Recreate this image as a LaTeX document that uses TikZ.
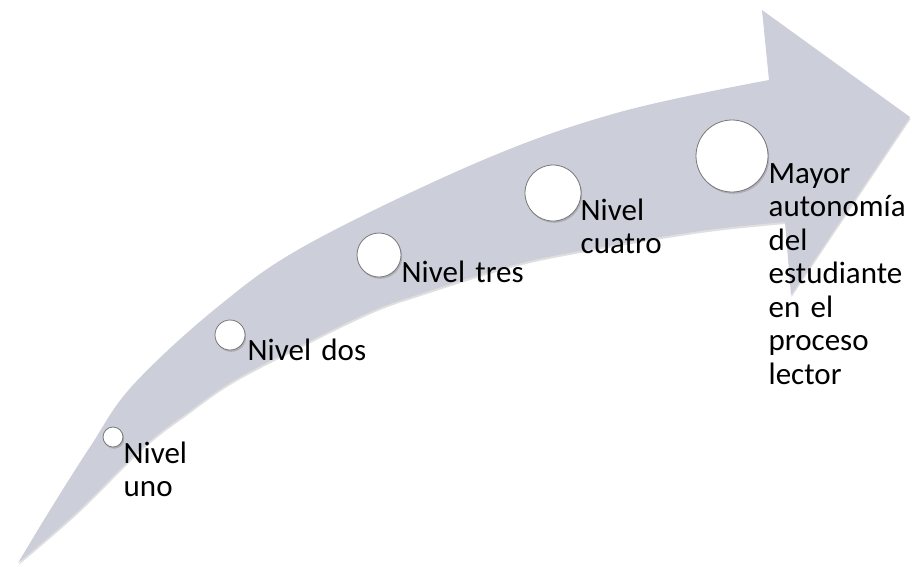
\documentclass[tikz,border=0pt]{standalone}
\usepackage{fontspec}
\setmainfont{Carlito}
\usetikzlibrary{shadows}
\definecolor{arrowgray}{RGB}{204,207,217}
\definecolor{rimgray}{RGB}{120,120,120}
\begin{document}
\begin{tikzpicture}[x=1pt,y=-1pt,
  dot/.style={circle,draw=rimgray,line width=0.8pt,fill=white,inner sep=0pt,
    drop shadow={opacity=0.4,shadow xshift=1.2pt,shadow yshift=-1.8pt}},
  lbl/.style={anchor=base west,inner sep=0pt,text width=150pt,align=left,
    font=\fontsize{31}{33.5}\selectfont}]
\useasboundingbox (0,0) rectangle (912,566);
% arrow
\fill[arrowgray, drop shadow={opacity=0.25,shadow xshift=0.6pt,shadow yshift=-2pt}]
  plot[smooth,tension=0.6] coordinates {(18,563) (50,510) (90,447) (133,385) (220,305) (310,243) (483,160) (620,112) (769,80)}
  -- (762,10) -- (910,117) -- (791,295)
  -- plot[smooth,tension=0.6] coordinates {(785,222) (700,231) (580,251) (510,266) (420,294) (370,312) (300,346) (233,381) (187,413) (143,447) (77,512) (18,563)}
  -- cycle;
% dots
\node[dot,minimum size=20pt] (c1) at (113,437) {};
\node[dot,minimum size=30pt] (c2) at (230,335) {};
\node[dot,minimum size=44pt] (c3) at (379,255) {};
\node[dot,minimum size=56pt] (c4) at (553,193) {};
\node[dot,minimum size=72pt] (c5) at (732,156) {};
% labels
\node[lbl] (t1) at (123.5,463) {Nivel\\uno};
\node[lbl] (t2) at (247.5,360) {Nivel dos};
\node[lbl] (t3) at (401.5,282) {Nivel tres};
\node[lbl] (t4) at (580.5,220) {Nivel\\cuatro};
\node[lbl] (t5) at (768.5,183) {Mayor\\autonomía\\del\\estudiante\\en el\\proceso\\lector};
\end{tikzpicture}
\end{document}
